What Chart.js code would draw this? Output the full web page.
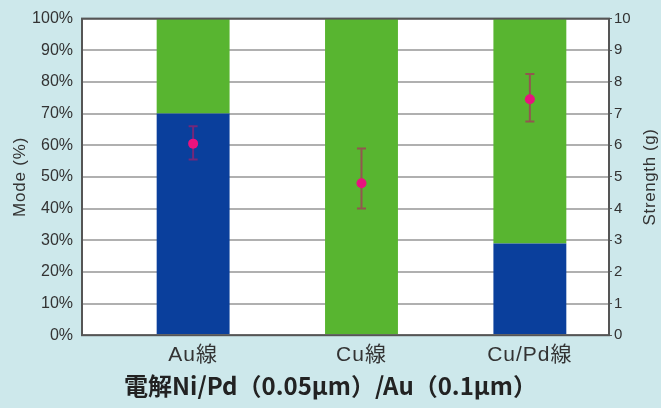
<!DOCTYPE html>
<html>
<head>
<meta charset="utf-8">
<script src="https://cdn.jsdelivr.net/npm/chart.js@4.4.0/dist/chart.umd.min.js"></script>
<style>
  html, body { margin: 0; padding: 0; background: #cde8eb; }
  #wrap { width: 661px; height: 408px; }
</style>
</head>
<body>
<div id="wrap"><canvas id="chart"></canvas></div>
<script>
// data
const categories = ['Au線', 'Cu線', 'Cu/Pd線'];
const modeBlue = [70, 0, 29];      // % (blue part)
const modeGreen = [30, 100, 71];   // % (green part)
const strength = [6.05, 4.8, 7.45];     // g
const strengthLow = [5.55, 4.0, 6.75];
const strengthHigh = [6.6, 5.9, 8.25];
const modeTicks = [0, 10, 20, 30, 40, 50, 60, 70, 80, 90, 100];
const strengthTicks = [0, 1, 2, 3, 4, 5, 6, 7, 8, 9, 10];

const FONT = '"Liberation Sans", Arial, "Noto Sans CJK JP", sans-serif';
const TXT = '#333';

const pts = arr => arr.map((v, i) => ({ x: i, y: v }));

// the printed labels are loosely spaced, so widen them a bit
function spaceText(s, labelPx, titlePx) {
    if (s._spaced) return;
    s._spaced = true;
    const dl = s.drawLabels, dt = s.drawTitle;
    s.drawLabels = function (a) {
        this.ctx.save(); this.ctx.letterSpacing = labelPx + 'px';
        dl.call(this, a); this.ctx.restore();
    };
    s.drawTitle = function (a) {
        this.ctx.save(); this.ctx.letterSpacing = titlePx + 'px';
        dt.call(this, a); this.ctx.restore();
    };
}

// white plot area + cyan page, frame and right title on top
const bgPlugin = {
    id: 'bg',
    beforeDraw(chart) {
        const c = chart.ctx, a = chart.chartArea;
        c.save();
        c.fillStyle = '#cde8eb';
        c.fillRect(0, 0, chart.width, chart.height);
        c.fillStyle = '#ffffff';
        c.fillRect(a.left, a.top, a.right - a.left, a.bottom - a.top);
        c.restore();
    },
    afterDraw(chart) {
        const c = chart.ctx, a = chart.chartArea;
        c.save();
        c.strokeStyle = '#555';
        c.lineWidth = 2;
        c.strokeRect(a.left, a.top, a.right - a.left, a.bottom - a.top);
        // right axis title reads bottom-to-top
        const s = chart.scales.y2;
        c.translate(s.right - 11, (a.top + a.bottom) / 2);
        c.rotate(-Math.PI / 2);
        c.letterSpacing = '0.6px';
        c.font = '17px ' + FONT;
        c.fillStyle = TXT;
        c.textAlign = 'center';
        c.textBaseline = 'middle';
        c.fillText('Strength (g)', 0, 0);
        c.restore();
    }
};

// error bars for strength, drawn just before the points
const errPlugin = {
    id: 'errbars',
    beforeDatasetDraw(chart, args) {
        if (args.meta.type !== 'line') return;
        const c = chart.ctx;
        const x = chart.scales.x, y = chart.scales.y2;
        c.save();
        c.strokeStyle = 'rgba(185, 25, 100, 0.6)';
        c.lineWidth = 2;
        categories.forEach((cat, i) => {
            const px = x.getPixelForValue(i);
            const lo = y.getPixelForValue(strengthLow[i]);
            const hi = y.getPixelForValue(strengthHigh[i]);
            c.beginPath();
            c.moveTo(px, lo); c.lineTo(px, hi);
            c.moveTo(px - 4.5, lo); c.lineTo(px + 4.5, lo);
            c.moveTo(px - 4.5, hi); c.lineTo(px + 4.5, hi);
            c.stroke();
        });
        c.restore();
    }
};

new Chart(document.getElementById('chart'), {
    data: {
        datasets: [
            {
                type: 'line',
                data: pts(strength),
                yAxisID: 'y2',
                showLine: false,
                pointRadius: 5,
                pointBackgroundColor: '#e8137e',
                pointBorderWidth: 0,
                order: 0
            },
            {
                type: 'bar',
                data: pts(modeBlue),
                backgroundColor: '#0a3f9c',
                yAxisID: 'y',
                stack: 's',
                categoryPercentage: 1,
                barPercentage: 0.433,
                order: 1
            },
            {
                type: 'bar',
                data: pts(modeGreen),
                backgroundColor: '#58b530',
                yAxisID: 'y',
                stack: 's',
                categoryPercentage: 1,
                barPercentage: 0.433,
                order: 1
            }
        ]
    },
    options: {
        responsive: true,
        maintainAspectRatio: false,
        animation: false,
        layout: { padding: { top: 15, right: 0, left: 0, bottom: 0 } },
        plugins: {
            legend: { display: false },
            tooltip: { enabled: false },
            title: {
                display: true,
                position: 'bottom',
                text: '電解Ni/Pd（0.05μm）/Au（0.1μm）',
                color: '#222',
                font: { family: '"Noto Sans CJK JP", sans-serif', size: 24, weight: 'bold' },
                padding: { top: 0, bottom: 8 }
            }
        },
        scales: {
            x: {
                type: 'linear',
                offset: false,
                stacked: true,
                min: -0.66, max: 2.47,
                afterBuildTicks(s) { s.ticks = categories.map((c, i) => ({ value: i })); },
                grid: { display: false, drawTicks: false },
                border: { display: false },
                ticks: {
                    color: TXT, font: { family: FONT, size: 21 }, padding: 7,
                    callback: v => categories[v]
                },
                afterFit(s) { s.height = 36; spaceText(s, 1, 0); }
            },
            y: {
                stacked: true,
                min: 0, max: 100,
                afterBuildTicks(s) { s.ticks = modeTicks.map(v => ({ value: v })); },
                grid: { color: '#b0b0b0', lineWidth: 2, drawTicks: false },
                border: { display: false },
                ticks: { color: TXT, font: { family: FONT, size: 16 }, padding: 9, callback: v => v + '%' },
                title: {
                    display: true, text: 'Mode (%)', color: TXT,
                    font: { family: FONT, size: 17 }, padding: { top: 10, bottom: 0 }
                },
                afterFit(s) { s.width = 82; spaceText(s, 0, 0.8); }
            },
            y2: {
                position: 'right',
                min: 0, max: 10,
                afterBuildTicks(s) { s.ticks = strengthTicks.map(v => ({ value: v })); },
                grid: { drawOnChartArea: false, color: '#555', tickLength: 3 },
                border: { display: false },
                ticks: { color: TXT, font: { family: FONT, size: 15 }, padding: 2 },
                afterFit(s) { s.width = 52; }
            }
        }
    },
    plugins: [bgPlugin, errPlugin]
});
</script>
</body>
</html>
